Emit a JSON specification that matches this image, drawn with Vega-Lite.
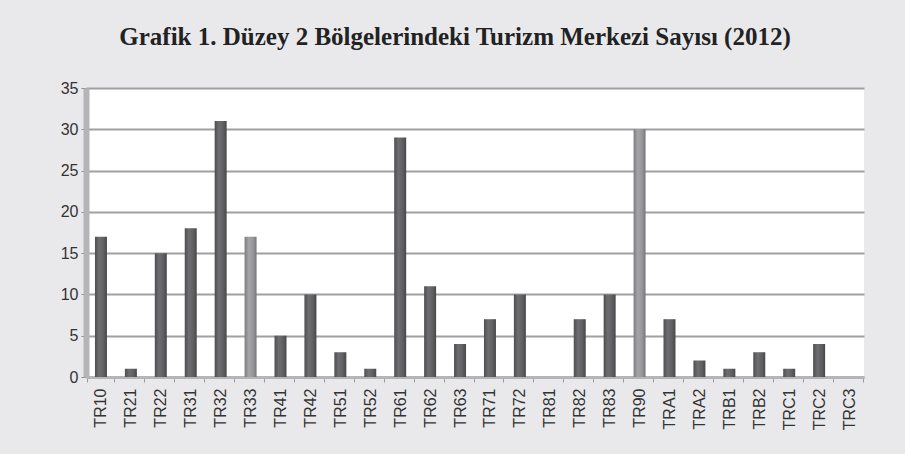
{
  "$schema": "https://vega.github.io/schema/vega-lite/v6.json",
  "width": 778,
  "height": 289,
  "autosize": {"type": "none"},
  "padding": {"left": 86, "top": 88, "right": 41, "bottom": 77},
  "background": "#e9e9eb",
  "title": {
    "text": "Grafik  1. Düzey 2 Bölgelerindeki Turizm  Merkezi Sayısı (2012)",
    "font": "Liberation Serif",
    "fontSize": 25,
    "fontWeight": "bold",
    "color": "#222222",
    "anchor": "middle",
    "dx": -20,
    "offset": 30
  },
  "config": {
    "view": {"fill": "#ffffff", "stroke": null},
    "axis": {"labelFont": "Liberation Sans", "labelColor": "#333333"}
  },
  "data": {
    "values": [
      {"bolge": "TR10", "sayi": 17},
      {"bolge": "TR21", "sayi": 1},
      {"bolge": "TR22", "sayi": 15},
      {"bolge": "TR31", "sayi": 18},
      {"bolge": "TR32", "sayi": 31},
      {"bolge": "TR33", "sayi": 17},
      {"bolge": "TR41", "sayi": 5},
      {"bolge": "TR42", "sayi": 10},
      {"bolge": "TR51", "sayi": 3},
      {"bolge": "TR52", "sayi": 1},
      {"bolge": "TR61", "sayi": 29},
      {"bolge": "TR62", "sayi": 11},
      {"bolge": "TR63", "sayi": 4},
      {"bolge": "TR71", "sayi": 7},
      {"bolge": "TR72", "sayi": 10},
      {"bolge": "TR81", "sayi": 0},
      {"bolge": "TR82", "sayi": 7},
      {"bolge": "TR83", "sayi": 10},
      {"bolge": "TR90", "sayi": 30},
      {"bolge": "TRA1", "sayi": 7},
      {"bolge": "TRA2", "sayi": 2},
      {"bolge": "TRB1", "sayi": 1},
      {"bolge": "TRB2", "sayi": 3},
      {"bolge": "TRC1", "sayi": 1},
      {"bolge": "TRC2", "sayi": 4},
      {"bolge": "TRC3", "sayi": 0}
    ]
  },
  "encoding": {
    "x": {
      "field": "bolge",
      "type": "nominal",
      "title": null,
      "scale": {"domain": ["TR10","TR21","TR22","TR31","TR32","TR33","TR41","TR42","TR51","TR52","TR61","TR62","TR63","TR71","TR72","TR81","TR82","TR83","TR90","TRA1","TRA2","TRB1","TRB2","TRC1","TRC2","TRC3"]},
      "axis": {
        "labelAngle": -90,
        "labelFontSize": 16,
        "labelPadding": 6,
        "tickBand": "extent",
        "tickColor": "#9a9a9a",
        "tickSize": 5,
        "domainColor": "#b5b5b7",
        "domainWidth": 3
      }
    },
    "y": {
      "field": "sayi",
      "type": "quantitative",
      "title": null,
      "scale": {"domain": [0, 35]},
      "axis": {
        "values": [0, 5, 10, 15, 20, 25, 30, 35],
        "labelFontSize": 16,
        "labelPadding": 3,
        "tickSize": 5,
        "tickColor": "#8a8a8a",
        "domainColor": "#b5b5b7",
        "domainWidth": 6,
        "gridColor": "#a0a0a2",
        "gridWidth": 2
      }
    }
  },
  "layer": [
    {
      "transform": [{"filter": {"not": {"field": "bolge", "oneOf": ["TR33", "TR90"]}}}],
      "mark": {
        "type": "bar",
        "width": 12,
        "cornerRadiusTop": 3,
        "color": {
          "gradient": "linear", "x1": 0, "x2": 1, "y1": 0, "y2": 0,
          "stops": [
            {"offset": 0, "color": "#4e4e50"},
            {"offset": 0.35, "color": "#6e6e70"},
            {"offset": 0.7, "color": "#606062"},
            {"offset": 1, "color": "#48484a"}
          ]
        }
      }
    },
    {
      "transform": [{"filter": {"field": "bolge", "oneOf": ["TR33", "TR90"]}}],
      "mark": {
        "type": "bar",
        "width": 12,
        "cornerRadiusTop": 3,
        "color": {
          "gradient": "linear", "x1": 0, "x2": 1, "y1": 0, "y2": 0,
          "stops": [
            {"offset": 0, "color": "#7d7d7f"},
            {"offset": 0.35, "color": "#a5a5a7"},
            {"offset": 0.7, "color": "#979799"},
            {"offset": 1, "color": "#77777a"}
          ]
        }
      }
    }
  ]
}
